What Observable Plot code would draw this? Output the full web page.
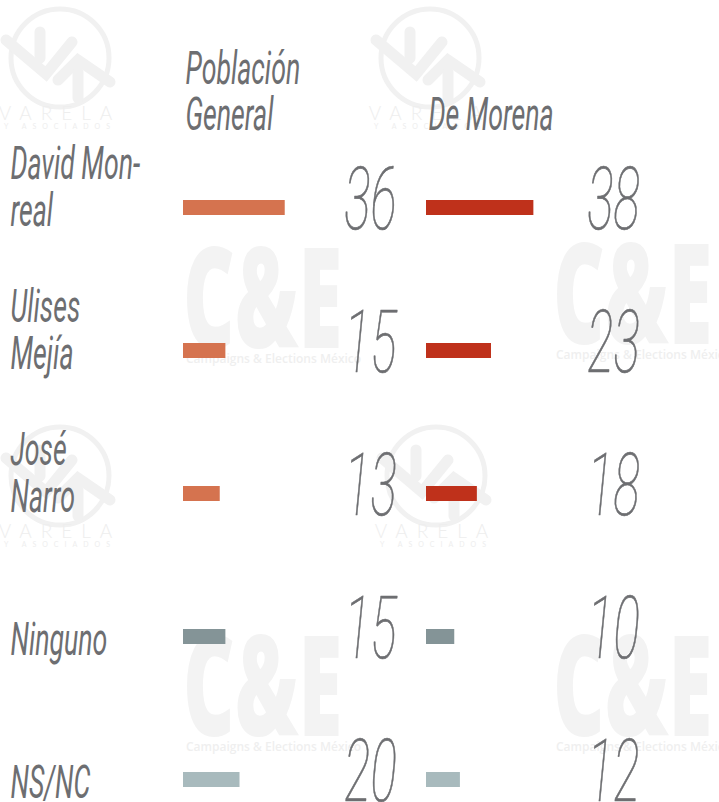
<!DOCTYPE html>
<html><head><meta charset="utf-8">
<script src="https://cdn.jsdelivr.net/npm/d3@7"></script>
<script src="https://cdn.jsdelivr.net/npm/@observablehq/plot@0.6"></script>
<style>
html,body{margin:0;padding:0;background:#fff;}
#wrap{position:relative;width:719px;height:802px;overflow:hidden;}
#wm,#chart{position:absolute;left:0;top:0;}
</style></head><body>
<div id="wrap"><svg id="wm" width="719" height="802"></svg><div id="chart"></div></div>
<script>
// ---- data ----
const candidates = ["David Monreal", "Ulises Mejía", "José Narro", "Ninguno", "NS/NC"];
const candidateLabels = ["David Mon-\nreal", "Ulises\nMejía", "José\nNarro", "Ninguno", "NS/NC"];
const columns = ["Población General", "De Morena"];
const columnLabels = ["Población\nGeneral", "De Morena"];
const poblacionGeneral = [36, 15, 13, 15, 20];
const deMorena = [38, 23, 18, 10, 12];

// ---- styles ----
const colColors = {"Población General": "#d5734f", "De Morena": "#bf311b"};
const otherColors = {"Ninguno": "#849497", "NS/NC": "#a8babd"};
const textColor = "#6d6e71";

const series = [poblacionGeneral, deMorena];
const rows = [];
columns.forEach((col, j) => candidates.forEach((cand, i) => rows.push({col, cand, value: series[j][i]})));
const labelOf = c => candidateLabels[candidates.indexOf(c)];
const headerOf = c => columnLabels[columns.indexOf(c)];
const fillOf = d => otherColors[d.cand] || colColors[d.col];

// ---- watermarks (decoration) ----
const wm = d3.select("#wm");
function ce(x, y) {
  const g = wm.append("g").attr("transform", `translate(${x},${y})`);
  g.append("text").attr("transform", "scale(0.57,1)").attr("font-family", "Open Sans, sans-serif")
    .attr("font-weight", 800).attr("font-size", 140).attr("fill", "#f3f3f3").text("C&E");
  g.append("text").attr("x", 3).attr("y", 15).attr("font-family", "Open Sans, sans-serif")
    .attr("font-weight", 600).attr("font-size", 12).attr("fill", "#efefef").text("Campaigns & Elections México");
}
function varela(x, y) {
  const g = wm.append("g").attr("transform", `translate(${x},${y})`)
    .attr("fill", "none").attr("stroke", "#f1f1f1").attr("stroke-linecap", "round");
  g.append("circle").attr("cx", 60).attr("cy", 56).attr("r", 49).attr("stroke-width", 5);
  g.append("polyline").attr("points", "6,38 46,72 72,40").attr("stroke-width", 11);
  g.append("polyline").attr("points", "40,30 40,56").attr("stroke-width", 11);
  g.append("polyline").attr("points", "58,78 78,58 110,80").attr("stroke-width", 11);
  g.append("polyline").attr("points", "78,70 78,96").attr("stroke-width", 11);
  g.append("text").attr("x", 60).attr("y", 118).attr("text-anchor", "middle").attr("stroke", "none")
    .attr("fill", "#eeeeee").attr("font-family", "Lato, sans-serif").attr("font-weight", 300)
    .attr("font-size", 19).attr("letter-spacing", 9).text("VARELA");
  g.append("text").attr("x", 60).attr("y", 127).attr("text-anchor", "middle").attr("stroke", "none")
    .attr("fill", "#eeeeee").attr("font-family", "Lato, sans-serif")
    .attr("font-size", 7).attr("letter-spacing", 6).text("Y ASOCIADOS");
}
varela(0, 2); varela(370, 2); varela(0, 420); varela(376, 420);
ce(183, 348); ce(553, 344); ce(183, 736); ce(553, 736);

// ---- chart ----
const chart = Plot.plot({
  width: 719, height: 802,
  marginLeft: 183, marginRight: 50, marginTop: 134, marginBottom: 0,
  style: {background: "transparent", overflow: "visible"},
  facet: {data: rows, x: "col"},
  fx: {domain: columns, padding: 0, axis: null},
  x: {domain: [0, 86], axis: null},
  y: {domain: candidates, range: [134, 853], paddingInner: 0.892, paddingOuter: 0.446, axis: null},
  color: {type: "identity"},
  marks: [
    Plot.barX(rows, {x: "value", y: "cand", fill: fillOf}),
    Plot.text(rows, {
      y: "cand", text: d => String(d.value), frameAnchor: "right", textAnchor: "middle", dx: -56, dy: -7.5,
      fontSize: 88, fontWeight: 100, fontStyle: "italic", fontFamily: "Roboto, sans-serif",
      fill: textColor, stroke: textColor, strokeWidth: 0.7
    }),
    Plot.text(rows, {
      filter: d => d.col === columns[0], y: "cand", text: d => labelOf(d.cand),
      frameAnchor: "left", dx: -173, dy: 18, textAnchor: "start", lineAnchor: "bottom", lineHeight: 1.03,
      fontSize: 46, fontWeight: 400, fontStyle: "italic", fontFamily: "Roboto, sans-serif", fill: textColor
    }),
    Plot.text(rows, {
      filter: d => d.cand === candidates[0], text: d => headerOf(d.col),
      frameAnchor: "top-left", dx: 2, dy: -5, textAnchor: "start", lineAnchor: "bottom", lineHeight: 1.0,
      fontSize: 46, fontWeight: 400, fontStyle: "italic", fontFamily: "Roboto, sans-serif", fill: textColor
    })
  ]
});
document.getElementById("chart").appendChild(chart);

// condense the type (the original uses a condensed face)
d3.select(chart).selectAll("text").each(function() {
  const g = this.closest("g[font-size]");
  const fs = g ? +g.getAttribute("font-size") : 0;
  const s = fs >= 80 ? 0.56 : 0.58;
  const t = this.getAttribute("transform") || "";
  this.setAttribute("transform", t + ` scale(${s},1)`);
});
</script>
</body></html>
